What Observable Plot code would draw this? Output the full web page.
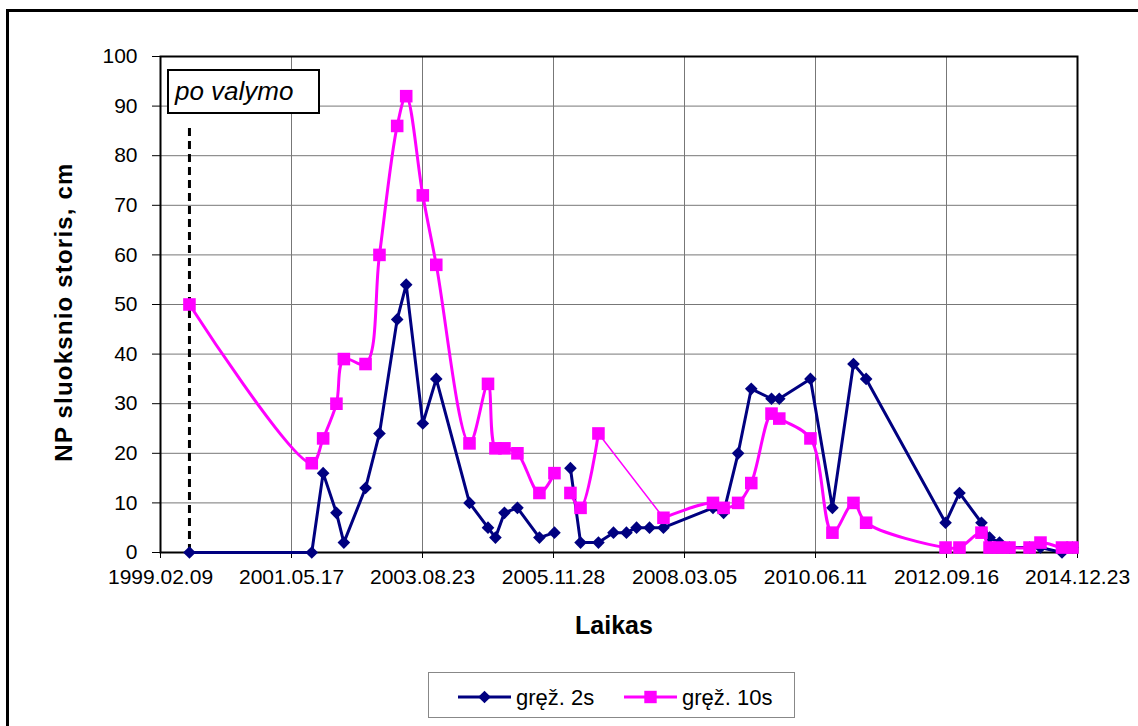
<!DOCTYPE html>
<html>
<head>
<meta charset="utf-8">
<script src="https://cdn.jsdelivr.net/npm/d3@7"></script>
<script src="https://cdn.jsdelivr.net/npm/@observablehq/plot@0.6"></script>
<style>
  body { margin: 0; background: #fff; font-family: "Liberation Sans", Arial, sans-serif; }
  #wrap { position: relative; width: 1138px; height: 726px; overflow: hidden; background: #fff; }
  #border { position: absolute; left: 6px; top: 9px; width: 1300px; height: 900px; border: 3px solid #000; box-sizing: border-box; }
  #plot { position: absolute; left: 0; top: 0; }
  .ytitle { position: absolute; left: -136px; top: 298px; width: 400px; height: 28px; line-height: 28px;
            text-align: center; font-weight: bold; font-size: 24px; letter-spacing: 1.2px; transform: rotate(-90deg); color: #000; }
  .xtitle { position: absolute; left: 414px; top: 610px; width: 400px; line-height: 30px; text-align: center;
            font-weight: bold; font-size: 25px; color: #000; }
  .annot { position: absolute; top: 69px; width: 153px; height: 45px; box-sizing: border-box; border: 2px solid #000;
           background: #fff; font-style: italic; font-size: 26px; line-height: 41px; padding-left: 6px; color: #000; white-space: nowrap; }
  .legend { position: absolute; left: 428px; top: 672px; width: 367px; height: 46px; box-sizing: border-box;
            border: 1px solid #888; background: #fff; }
</style>
</head>
<body>
<div id="wrap"><div id="border"></div></div>
<script>
// ---- data ----
const dates = [
  "1999-08-11","2001-09-22","2001-12-03","2002-02-25","2002-04-13","2002-08-28","2002-11-24",
  "2003-03-16","2003-05-12","2003-08-25","2003-11-18","2004-06-15","2004-10-10","2004-11-26",
  "2005-01-22","2005-04-14","2005-08-31","2005-12-04","2006-01-24","2006-03-15","2006-05-18",
  "2006-09-08","2006-12-12","2007-03-04","2007-05-07","2007-07-28","2007-10-24","2008-09-01",
  "2008-11-07","2009-02-07","2009-05-01","2009-09-06","2009-10-25","2010-05-10","2010-09-26",
  "2011-02-06","2011-04-27","2012-09-10","2012-12-07","2013-04-25","2013-06-15","2013-08-17",
  "2013-10-19","2014-02-23","2014-05-03","2014-09-16","2014-11-21"
];
const depth2s = [
  0, 0, 16, 8, 2, 13, 24,
  47, 54, 26, 35, 10, 5, 3,
  8, 9, 3, 4, null, 17, 2,
  2, 4, 4, 5, 5, 5, 9,
  8, 20, 33, 31, 31, 35, 9,
  38, 35, 6, 12, 6, 3, 2,
  1, 1, 1, 0, 1
];
const depth10s = [
  50, 18, 23, 30, 39, 38, 60,
  86, 92, 72, 58, 22, 34, 21,
  21, 20, 12, 16, null, 12, 9,
  24, null, null, null, null, 7, 10,
  9, 10, 14, 28, 27, 23, 4,
  10, 6, 1, 1, 4, 1, 1,
  1, 1, 2, 1, 1
];
const thinLink10s = ["2006-09-08", "2007-10-24"];
const xTickLabels = ["1999.02.09","2001.05.17","2003.08.23","2005.11.28","2008.03.05","2010.06.11","2012.09.16","2014.12.23"];
const yTicks = [0, 10, 20, 30, 40, 50, 60, 70, 80, 90, 100];
const seriesNames = ["gręž. 2s", "gręž. 10s"];
const seriesColors = ["#000080", "#FF00FF"];
const yTitle = "NP sluoksnio storis, cm";
const xTitle = "Laikas";
const annotationText = "po valymo";
const annotationLineTop = 86.5;

// ---- build ----
const parseD = d3.utcParse("%Y-%m-%d");
const parseTick = d3.utcParse("%Y.%m.%d");
const fmtTick = d3.utcFormat("%Y.%m.%d");
const xTicks = xTickLabels.map(parseTick);
const rows = dates.map((d, i) => ({date: parseD(d), key: d, s2: depth2s[i], s10: depth10s[i]}));
const rows2 = rows.filter(r => r.s2 != null);
const rows10 = rows.filter(r => r.s10 != null);
const link10 = rows.filter(r => thinLink10s.includes(r.key));

const plot = Plot.plot({
  width: 1138,
  height: 600,
  marginLeft: 160,
  marginRight: 61,
  marginTop: 56,
  marginBottom: 48,
  style: {fontFamily: '"Liberation Sans", Arial, sans-serif', fontSize: "21px", color: "#000", background: "transparent", overflow: "visible"},
  x: {type: "utc", domain: [xTicks[0], xTicks[xTicks.length - 1]]},
  y: {domain: [0, 100]},
  marks: [
    Plot.gridX(xTicks, {stroke: "#777", strokeOpacity: 1, strokeWidth: 1}),
    Plot.gridY(yTicks, {stroke: "#777", strokeOpacity: 1, strokeWidth: 1}),
    Plot.frame({stroke: "#000", strokeWidth: 2}),
    Plot.axisX({ticks: xTicks, tickFormat: fmtTick, tickSize: 6, tickPadding: 11, label: null}),
    Plot.axisY({ticks: yTicks, tickSize: 8, tickPadding: 15, label: null}),
    Plot.ruleX([rows[0]], {x: "date", y1: 0, y2: annotationLineTop, stroke: "#000", strokeWidth: 3, strokeDasharray: "8,5"}),
    Plot.line(rows, {x: "date", y: "s2", stroke: seriesColors[0], strokeWidth: 3}),
    Plot.dot(rows2, {x: "date", y: "s2", symbol: "diamond2", r: 5.7, fill: seriesColors[0], stroke: "none"}),
    Plot.line(link10, {x: "date", y: "s10", stroke: seriesColors[1], strokeWidth: 1.5}),
    Plot.line(rows, {x: "date", y: "s10", stroke: seriesColors[1], strokeWidth: 3, curve: "catmull-rom"}),
    Plot.dot(rows10, {x: "date", y: "s10", symbol: "square", r: 7.1, fill: seriesColors[1], stroke: "none"})
  ]
});
plot.id = "plot";
const wrap = document.getElementById("wrap");
wrap.appendChild(plot);

// axis titles
const yt = document.createElement("div"); yt.className = "ytitle"; yt.textContent = yTitle; wrap.appendChild(yt);
const xt = document.createElement("div"); xt.className = "xtitle"; xt.textContent = xTitle; wrap.appendChild(xt);

// annotation box anchored on first measurement date
const xs = plot.scale("x");
const an = document.createElement("div"); an.className = "annot"; an.textContent = annotationText;
an.style.left = (xs.apply(rows[0].date) - 22) + "px";
wrap.appendChild(an);

// legend
const lg = document.createElement("div"); lg.className = "legend"; wrap.appendChild(lg);
const svg = d3.select(lg).append("svg").attr("width", 365).attr("height", 44).style("display", "block");
const items = [
  {name: seriesNames[0], color: seriesColors[0], sym: d3.symbol(d3.symbolDiamond2, 5.7 * 5.7 * Math.PI), x0: 29},
  {name: seriesNames[1], color: seriesColors[1], sym: d3.symbol(d3.symbolSquare, 7.0 * 7.0 * Math.PI), x0: 195}
];
for (const it of items) {
  svg.append("line").attr("x1", it.x0).attr("x2", it.x0 + 53).attr("y1", 24).attr("y2", 24)
    .attr("stroke", it.color).attr("stroke-width", 3);
  svg.append("path").attr("d", it.sym()).attr("transform", `translate(${it.x0 + 26.5},24)`).attr("fill", it.color);
  svg.append("text").attr("x", it.x0 + 58).attr("y", 31.5).attr("font-size", 22)
    .attr("font-family", '"Liberation Sans", Arial, sans-serif').attr("fill", "#000").text(it.name);
}
</script>
</body>
</html>
